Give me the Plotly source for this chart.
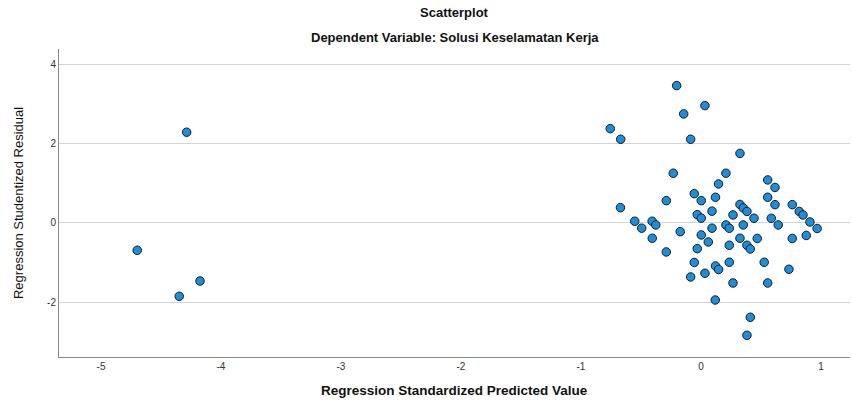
import plotly.graph_objects as go

# Regression Standardized Predicted Value
pred = [-4.286, -4.698, -4.175, -4.348,
        -0.2025, 0.033, -0.144, -0.756, -0.669, -0.086, 0.325, -0.231, 0.208, 0.146,
        0.556, 0.617, -0.056, 0.121, 0.556, 0.0025, -0.289, -0.671, 0.325, 0.3525,
        0.383, 0.617, 0.761, 0.819, 0.85, 0.092, -0.031, 0.0025, 0.267, 0.442,
        0.586, -0.552, -0.407, -0.377, -0.494, 0.208, 0.236, 0.3525, 0.644, 0.908,
        0.968, 0.092, -0.173, 0.0025, -0.406, 0.061, 0.325, 0.469, 0.761, 0.8775,
        0.236, 0.383, 0.411, -0.289, -0.031, -0.056, 0.236, 0.527, 0.121, 0.147,
        0.733, 0.033, -0.086, 0.267, 0.556, 0.119, 0.411, 0.383]
# Regression Studentized Residual
resid = [2.285, -0.688, -1.461, -1.846,
         3.458, 2.955, 2.746, 2.375, 2.108, 2.108, 1.751, 1.252, 1.252, 0.982,
         1.083, 0.894, 0.738, 0.647, 0.647, 0.562, 0.562, 0.385, 0.466, 0.378,
         0.290, 0.461, 0.461, 0.290, 0.2015, 0.297, 0.209, 0.121, 0.2015, 0.118,
         0.118, 0.043, 0.043, -0.050, -0.131, -0.050, -0.134, -0.050, -0.050, 0.025,
         -0.139, -0.131, -0.219, -0.302, -0.385, -0.479, -0.385, -0.390, -0.390, -0.315,
         -0.562, -0.562, -0.655, -0.730, -0.647, -0.995, -0.990, -0.990, -1.083, -1.171,
         -1.166, -1.267, -1.360, -1.511, -1.511, -1.940, -2.375, -2.829]

x_ticks = [-5, -4, -3, -2, -1, 0, 1]
y_ticks = [-2, 0, 2, 4]

title_main = "Scatterplot"
title_sub = "Dependent Variable: Solusi Keselamatan Kerja"
x_title = "Regression Standardized Predicted Value"
y_title = "Regression Studentized Residual"

fig = go.Figure()
fig.add_trace(go.Scatter(
    x=pred, y=resid, mode="markers",
    marker=dict(size=8.5, color="#1a8fe0", line=dict(color="#1a1a1a", width=1)),
    hoverinfo="x+y", showlegend=False,
))

font_main = "Liberation Sans, Arial, sans-serif"
fig.update_layout(
    width=852, height=403,
    margin=dict(l=59, r=2, t=49, b=46),
    paper_bgcolor="white", plot_bgcolor="white",
    font=dict(family=font_main, size=10, color="#333333"),
    xaxis=dict(range=[-5.35, 1.242], tickvals=x_ticks, ticktext=[str(v) for v in x_ticks],
               showgrid=False, zeroline=False, showline=True, linecolor="#888888",
               linewidth=1, ticks="", tickfont=dict(size=10, color="#333333")),
    yaxis=dict(range=[-3.375, 4.38], tickvals=y_ticks, ticktext=[str(v) for v in y_ticks],
               showgrid=True, gridcolor="#d4d4d4", gridwidth=1, zeroline=False,
               showline=True, linecolor="#888888", linewidth=1, ticks="",
               tickfont=dict(size=10, color="#333333")),
    annotations=[
        dict(text="<b>" + title_main + "</b>", xref="paper", yref="paper",
             x=0.5, y=1.117, xanchor="center", yanchor="middle", showarrow=False,
             font=dict(family=font_main, size=13, color="#111111")),
        dict(text="<b>" + title_sub + "</b>", xref="paper", yref="paper",
             x=0.5, y=1.036, xanchor="center", yanchor="middle", showarrow=False,
             font=dict(family=font_main, size=13, color="#111111")),
        dict(text="<b>" + x_title + "</b>", xref="paper", yref="paper",
             x=0.5, y=-0.110, xanchor="center", yanchor="middle", showarrow=False,
             font=dict(family=font_main, size=13.5, color="#111111")),
        dict(text=y_title, xref="paper", yref="paper", textangle=-90,
             x=-0.0518, y=0.5, xanchor="center", yanchor="middle", showarrow=False,
             font=dict(family="Liberation Sans Narrow, Liberation Sans, Arial, sans-serif",
                       size=13, color="#111111")),
    ],
)

fig.write_html("out.html", config={"displayModeBar": False},
               post_script="document.body.style.margin='0px';document.body.style.padding='0px';")
